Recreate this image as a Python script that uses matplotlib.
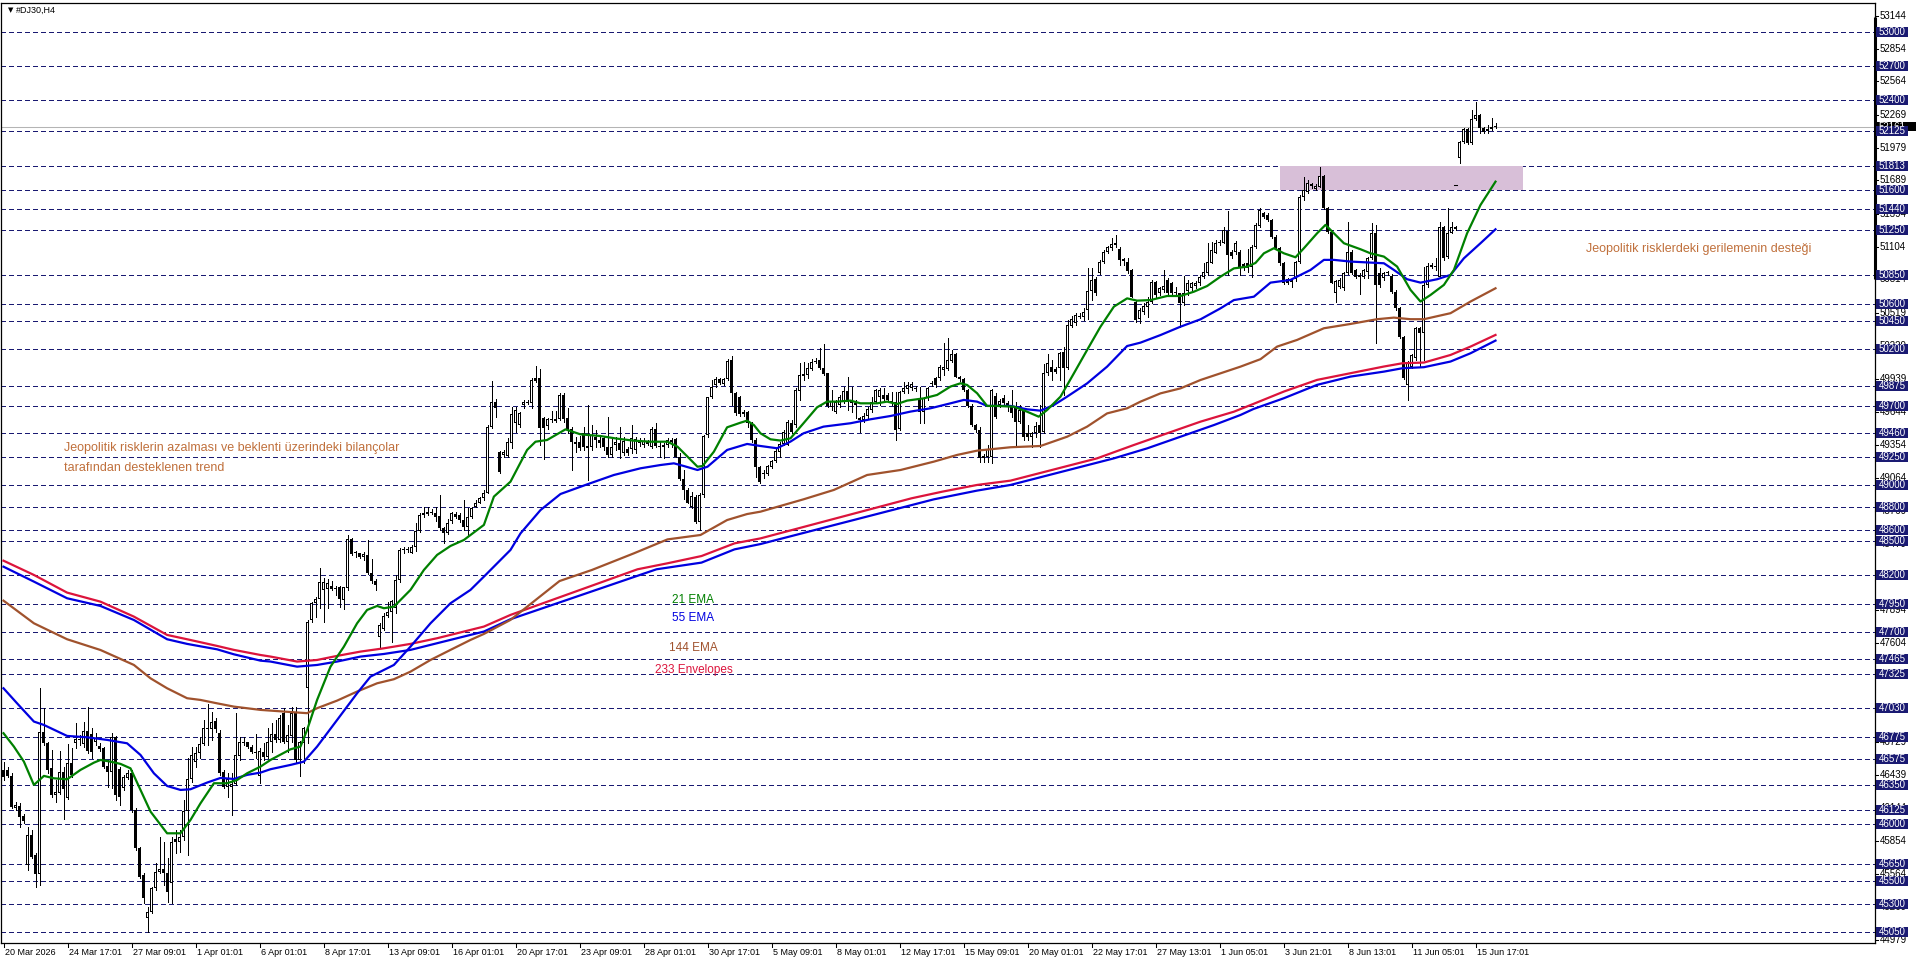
import numpy as np
import matplotlib.pyplot as plt
from matplotlib.patches import Rectangle
from matplotlib.transforms import blended_transform_factory

plt.rcParams['font.family'] = ['Liberation Sans', 'DejaVu Sans']
plt.rcParams['lines.scale_dashes'] = False

# ---------------------------------------------------------------------------
# #DJ30 H4 candles, 20 Mar 2026 -> 15 Jun 2026
# ---------------------------------------------------------------------------
opens = [
    46482, 46482, 46429, 46149, 46167, 46075, 45643, 45908, 45731, 45560,
    46814, 46717, 46496, 46261, 46276, 46461, 46231, 46541, 46717, 46747,
    46711, 46829, 46800, 46726, 46694, 46673, 46517, 46461, 46770, 46488,
    46320, 46411, 46452, 46128, 45790, 45554, 45177, 45230, 45437, 45578,
    45604, 45575, 45481, 45849, 45849, 45893, 46122, 46399, 46555, 46629,
    46711, 46841, 46844, 46914, 46811, 46461, 46334, 46329, 46355, 46605,
    46717, 46726, 46688, 46640, 46429, 46644, 46600, 46732, 46800, 46747,
    46982, 46732, 46782, 46997, 46570, 46717, 47203, 47807, 47954, 47989,
    48072, 48080, 48110, 48080, 48095, 47983, 48092, 48519, 48396, 48396,
    48360, 48381, 48219, 48154, 47659, 47730, 47842, 47880, 47910, 48160,
    48425, 48431, 48401, 48449, 48596, 48734, 48743, 48764, 48755, 48728,
    48616, 48572, 48684, 48743, 48734, 48690, 48625, 48719, 48808, 48843,
    48881, 48931, 49514, 49735, 49293, 49263, 49255, 49372, 49543, 49528,
    49705, 49731, 49725, 49920, 49940, 49587, 49519, 49572, 49584, 49578,
    49793, 49587, 49490, 49381, 49378, 49461, 49343, 49331, 49425, 49396,
    49416, 49337, 49263, 49352, 49366, 49278, 49313, 49313, 49308, 49396,
    49352, 49387, 49337, 49490, 49343, 49331, 49349, 49396, 49402, 49249,
    49048, 48954, 48807, 48895, 48675, 48910, 49440, 49773, 49882, 49932,
    49890, 49932, 50102, 49814, 49773, 49646, 49646, 49549, 49397, 49161,
    49108, 49096, 49161, 49211, 49293, 49361, 49352, 49550, 49529, 49832,
    49965, 49971, 50021, 50088, 50103, 50029, 49985, 49685, 49647, 49706,
    49744, 49829, 49750, 49720, 49588, 49573, 49608, 49661, 49735, 49779,
    49794, 49794, 49744, 49735, 49491, 49823, 49844, 49853, 49853, 49770,
    49647, 49765, 49888, 49941, 49941, 50015, 50021, 50097, 50156, 49956,
    49932, 49838, 49697, 49529, 49485, 49235, 49243, 49249, 49785, 49706,
    49770, 49720, 49690, 49676, 49552, 49661, 49461, 49425, 49455, 49528,
    49464, 49985, 50044, 50000, 50029, 50176, 50029, 50403, 50426, 50479,
    50485, 50544, 50715, 50815, 50874, 50971, 51053, 51089, 51118, 51083,
    50992, 50971, 50897, 50618, 50462, 50529, 50574, 50618, 50794, 50697,
    50721, 50809, 50780, 50691, 50691, 50603, 50715, 50735, 50756, 50780,
    50833, 50874, 50962, 51050, 51133, 51139, 51245, 51059, 51059, 51059,
    50950, 50956, 50928, 51104, 51287, 51399, 51384, 51340, 51193, 51090,
    50957, 50815, 50795, 50815, 50972, 51546, 51590, 51640, 51614, 51634,
    51728, 51443, 51237, 50698, 50745, 50736, 50869, 51060, 50898, 50854,
    50839, 50884, 51001, 51228, 50869, 50825, 50869, 50845, 50707, 50560,
    50309, 49883, 50045, 50118, 50383, 50339, 50766, 50928, 50934, 50839,
    51281, 51016, 51228, 51275, 51884, 52032, 52141, 52017, 52229, 52267,
    52149, 52141, 52141, 52164,
]
highs = [
    46555, 46511, 46452, 46202, 46187, 46093, 45981, 45952, 45746, 47203,
    47026, 46732, 46658, 46393, 46649, 46511, 46708, 46673, 46894, 46791,
    46909, 47035, 46850, 46811, 46717, 46688, 46570, 46805, 46782, 46511,
    46437, 46482, 46482, 46143, 45805, 45569, 45275, 45451, 45657, 45893,
    45849, 45701, 45893, 45952, 45952, 46217, 46585, 46688, 46688, 46776,
    46923, 47065, 46997, 46938, 46835, 46482, 46452, 46452, 46982, 46776,
    46776, 46732, 46702, 46800, 46673, 46717, 46850, 46894, 46923, 46968,
    47027, 46879, 47041, 47041, 46740, 46865, 47807, 47969, 48013, 48263,
    48175, 48166, 48154, 48107, 48107, 48101, 48557, 48528, 48419, 48402,
    48410, 48513, 48343, 48166, 47777, 47866, 47969, 47983, 48204, 48440,
    48454, 48450, 48469, 48660, 48749, 48808, 48808, 48790, 48802, 48911,
    48631, 48696, 48763, 48763, 48749, 48867, 48793, 48808, 48867, 48896,
    48955, 49529, 49920, 49756, 49300, 49308, 49411, 49690, 49690, 49646,
    49749, 49745, 49946, 50049, 50020, 49602, 49587, 49655, 49655, 49808,
    49808, 49675, 49508, 49425, 49431, 49514, 49705, 49528, 49484, 49440,
    49434, 49596, 49425, 49425, 49514, 49425, 49337, 49528, 49425, 49410,
    49411, 49400, 49508, 49549, 49381, 49366, 49411, 49411, 49411, 49278,
    49131, 48969, 48939, 48910, 48925, 49440, 49779, 49926, 49949, 49945,
    49945, 50108, 50138, 49823, 49784, 49661, 49650, 49558, 49411, 49167,
    49131, 49176, 49220, 49323, 49382, 49485, 49573, 49573, 49853, 50074,
    50088, 50080, 50109, 50118, 50206, 50244, 49991, 49838, 49750, 49794,
    49868, 49956, 49868, 49750, 49603, 49632, 49691, 49779, 49844, 49853,
    49853, 49809, 49823, 49823, 49832, 49912, 49912, 49912, 49870, 49868,
    49779, 49868, 49920, 49956, 50059, 50256, 50294, 50191, 50168, 49960,
    49940, 49850, 49710, 49540, 49514, 49270, 49352, 49844, 49809, 49760,
    49790, 49740, 49838, 49735, 49705, 49676, 49528, 49470, 49558, 49705,
    50067, 50156, 50103, 50044, 50176, 50220, 50456, 50491, 50515, 50515,
    50559, 50912, 50912, 50833, 50986, 51074, 51109, 51177, 51207, 51098,
    51000, 51000, 50903, 50632, 50559, 50603, 50662, 50809, 50803, 50750,
    50897, 50824, 50794, 50750, 50697, 50844, 50809, 50794, 50803, 50853,
    50962, 51139, 51148, 51162, 51162, 51280, 51420, 51070, 51150, 51074,
    50960, 51080, 51120, 51310, 51443, 51413, 51400, 51350, 51205, 51100,
    50970, 50830, 50830, 50980, 51560, 51723, 51693, 51670, 51660, 51811,
    51740, 51455, 51251, 50810, 50825, 50880, 51325, 51070, 50910, 50869,
    50910, 51016, 51310, 51296, 50913, 50880, 50890, 50860, 50722, 50575,
    50315, 50097, 50160, 50398, 50398, 50928, 50957, 50957, 51001, 51325,
    51287, 51443, 51325, 51290, 52041, 52149, 52150, 52311, 52385, 52276,
    52160, 52179, 52238, 52200,
]
lows = [
    46393, 46417, 46143, 46128, 45981, 46011, 45598, 45701, 45451, 45466,
    46702, 46452, 46246, 46202, 46270, 46046, 46223, 46423, 46673, 46702,
    46688, 46629, 46585, 46702, 46652, 46496, 46334, 46320, 46217, 46172,
    46305, 46399, 46114, 45775, 45525, 45304, 45054, 45216, 45422, 45569,
    45466, 45319, 45304, 45746, 45760, 45863, 45731, 46379, 46511, 46585,
    46702, 46702, 46747, 46820, 46437, 46320, 46246, 46084, 46349, 46570,
    46702, 46673, 46629, 46585, 46364, 46570, 46585, 46644, 46732, 46732,
    46717, 46644, 46732, 46555, 46429, 46541, 46717, 47792, 47836, 47910,
    47792, 47910, 48072, 48027, 47924, 47901, 48072, 48381, 48360, 48351,
    48337, 48210, 48136, 48072, 47556, 47718, 47836, 47615, 47866, 48145,
    48395, 48405, 48395, 48419, 48587, 48719, 48734, 48740, 48684, 48602,
    48490, 48566, 48660, 48705, 48675, 48602, 48549, 48705, 48802, 48837,
    48867, 48925, 49499, 49603, 49108, 49249, 49249, 49322, 49469, 49514,
    49675, 49710, 49675, 49911, 49352, 49228, 49490, 49558, 49558, 49572,
    49558, 49455, 49131, 49293, 49308, 49308, 49043, 49308, 49337, 49337,
    49308, 49249, 49249, 49308, 49234, 49263, 49263, 49284, 49278, 49340,
    49337, 49350, 49322, 49331, 49249, 49234, 49337, 49337, 49243, 49043,
    48872, 48837, 48792, 48666, 48601, 48895, 49425, 49764, 49867, 49890,
    49885, 49926, 49705, 49617, 49608, 49608, 49514, 49381, 49073, 49020,
    49058, 49087, 49146, 49205, 49249, 49352, 49350, 49461, 49514, 49750,
    49926, 49941, 50015, 50074, 50021, 49971, 49685, 49661, 49632, 49685,
    49726, 49661, 49647, 49588, 49470, 49558, 49588, 49647, 49726, 49706,
    49735, 49735, 49706, 49396, 49485, 49809, 49809, 49838, 49830, 49544,
    49544, 49750, 49870, 49868, 49926, 49971, 50015, 50088, 49950, 49920,
    49830, 49685, 49520, 49470, 49205, 49205, 49205, 49190, 49588, 49690,
    49700, 49650, 49602, 49337, 49543, 49396, 49396, 49337, 49420, 49337,
    49455, 49970, 49926, 49985, 49926, 49793, 50020, 50391, 50412, 50470,
    50456, 50462, 50632, 50677, 50862, 50956, 51045, 51074, 51103, 50942,
    50942, 50868, 50656, 50441, 50426, 50509, 50485, 50603, 50656, 50680,
    50706, 50677, 50677, 50677, 50397, 50588, 50677, 50721, 50735, 50765,
    50824, 50853, 50956, 51045, 51118, 51133, 50853, 51000, 51040, 50853,
    50900, 50883, 50839, 51090, 51281, 51355, 51330, 51180, 51080, 50945,
    50775, 50770, 50751, 50804, 50960, 51517, 51575, 51620, 51600, 51628,
    51434, 51225, 50780, 50619, 50735, 50725, 50863, 50865, 50830, 50686,
    50830, 50825, 50992, 50256, 50751, 50810, 50855, 50695, 50545, 50295,
    49933, 49750, 50030, 50103, 50044, 50103, 50751, 50913, 50898, 50825,
    50987, 51001, 51222, 51250, 51846, 52017, 52010, 52011, 52223, 52105,
    52110, 52111, 52135, 52150,
]
closes = [
    46417, 46429, 46158, 46172, 46069, 46031, 45908, 45716, 45560, 46820,
    46717, 46482, 46261, 46284, 46461, 46311, 46541, 46437, 46752, 46755,
    46829, 46652, 46644, 46761, 46667, 46511, 46461, 46770, 46261, 46246,
    46417, 46452, 46128, 45790, 45540, 45348, 45230, 45437, 45578, 45604,
    45569, 45407, 45849, 45869, 45893, 46122, 46399, 46614, 46635, 46711,
    46850, 46850, 46909, 46841, 46452, 46329, 46399, 46355, 46614, 46732,
    46726, 46688, 46644, 46635, 46653, 46600, 46732, 46800, 46747, 46938,
    46732, 46791, 46982, 46570, 46732, 46850, 47792, 47960, 47989, 48145,
    48145, 48131, 48080, 48089, 47989, 48095, 48519, 48390, 48399, 48360,
    48390, 48219, 48154, 48116, 47763, 47842, 47880, 47975, 48160, 48425,
    48431, 48425, 48449, 48596, 48734, 48755, 48764, 48749, 48713, 48616,
    48572, 48660, 48749, 48719, 48690, 48625, 48719, 48793, 48843, 48881,
    48931, 49514, 49735, 49676, 49117, 49293, 49381, 49625, 49661, 49637,
    49731, 49720, 49926, 49940, 49499, 49499, 49578, 49584, 49566, 49793,
    49578, 49490, 49378, 49361, 49322, 49331, 49328, 49440, 49396, 49366,
    49331, 49263, 49337, 49381, 49308, 49390, 49278, 49411, 49408, 49366,
    49387, 49361, 49490, 49343, 49331, 49349, 49396, 49381, 49249, 49048,
    48954, 48842, 48901, 48675, 48910, 49434, 49773, 49867, 49932, 49900,
    49932, 50096, 49808, 49631, 49625, 49625, 49549, 49396, 49161, 49028,
    49096, 49167, 49211, 49302, 49361, 49470, 49558, 49470, 49838, 49971,
    49979, 50029, 50088, 50082, 50029, 49979, 49697, 49744, 49735, 49779,
    49829, 49735, 49720, 49706, 49573, 49611, 49667, 49735, 49838, 49838,
    49756, 49750, 49720, 49485, 49823, 49853, 49882, 49891, 49844, 49647,
    49765, 49853, 49903, 49882, 50038, 50044, 50103, 50156, 49956, 49932,
    49838, 49697, 49529, 49485, 49235, 49255, 49314, 49838, 49597, 49744,
    49720, 49690, 49631, 49552, 49661, 49420, 49420, 49455, 49520, 49461,
    49991, 50073, 50000, 50021, 50167, 50029, 50412, 50462, 50500, 50491,
    50529, 50715, 50809, 50691, 50971, 51059, 51098, 51127, 51139, 50986,
    50980, 50892, 50662, 50456, 50544, 50579, 50618, 50794, 50677, 50735,
    50756, 50691, 50691, 50706, 50603, 50691, 50786, 50780, 50786, 50839,
    50883, 50971, 51074, 51133, 51148, 51251, 51030, 51021, 51139, 50927,
    50921, 50912, 51104, 51296, 51428, 51369, 51340, 51193, 51090, 50957,
    50786, 50786, 50815, 50972, 51546, 51605, 51670, 51655, 51643, 51728,
    51443, 51237, 50786, 50804, 50810, 50869, 51060, 50875, 50839, 50833,
    50898, 51001, 51222, 50766, 50766, 50869, 50875, 50707, 50560, 50309,
    49941, 50089, 50148, 50383, 50339, 50766, 50934, 50943, 50922, 51275,
    51001, 51228, 51275, 51260, 52032, 52141, 52017, 52229, 52267, 52149,
    52120, 52126, 52161, 52161,
]

# indicator lines, sampled along the chart: (bar, price)
ema21_bar = [0, 2.6, 5.1, 7.6, 10.1, 12.6, 15.9, 19.25, 22.6, 24.25, 26.75, 29.25, 31.75,
             34.25, 36.75, 40.9, 44.25, 46.75, 49.25, 52.6, 55.9, 58.4, 60.9, 64.25, 66.75,
             71.75, 74.25, 75.9, 78.4, 81.75, 85.1, 88.4, 90.9, 93.4, 95.1, 97.6, 101.75,
             105.1, 108.4, 111.75, 115.1, 120.1, 122.6, 126.75, 130.9, 133, 135.9, 140.5,
             144.25, 149.25, 153.4, 157.6, 161.75, 166, 168.5, 171, 173.5, 174.75, 177.6,
             180.9, 184.25, 185.9, 187.6, 189.25, 191.75, 194.25, 196.75, 200, 203.4, 205.9,
             208.4, 211.75, 214.25, 218.4, 220.9, 223.4, 225.9, 230.1, 233.4, 236.75, 239.25,
             240.9, 243.4, 245.9, 248.4, 252.6, 255.9, 258.8, 260.9, 264.25, 267.6, 270.9,
             274.25, 277.6, 280.9, 283.4, 286.75, 290.9, 294.25, 297.6, 300.9, 304.25, 307.6,
             310.9, 313, 315.1, 317.6, 320.1, 323, 325.1, 328.4, 330.5, 331.75, 335.1, 339.25,
             341.75, 345.1, 348.4, 351.75, 354.25, 356.75, 360.1, 362.6, 365.9, 369.25, 373]
ema21_val = [46806, 46688, 46555, 46349, 46429, 46408, 46399, 46482, 46546, 46570, 46555, 46535,
             46496, 46305, 46114, 45922, 45922, 46040, 46187, 46364, 46364, 46393, 46452, 46511,
             46570, 46664, 46688, 46835, 47100, 47394, 47571, 47777, 47895, 47930, 47910, 47924,
             48072, 48248, 48381, 48460, 48513, 48646, 48896, 49028, 49308, 49381, 49396, 49490,
             49446, 49431, 49408, 49390, 49381, 49381, 49337, 49249, 49160, 49166, 49293, 49508,
             49549, 49567, 49528, 49455, 49402, 49391, 49411, 49544, 49685, 49735, 49735, 49744,
             49720, 49720, 49735, 49714, 49744, 49764, 49794, 49868, 49897, 49882, 49809, 49697,
             49697, 49690, 49646, 49602, 49661, 49779, 49985, 50191, 50397, 50574, 50647, 50627,
             50632, 50668, 50668, 50706, 50756, 50839, 50912, 50927, 50960, 51045, 51090, 51045,
             51010, 51090, 51222, 51296, 51252, 51134, 51081, 51045, 51016, 50928, 50722, 50619,
             50677, 50766, 50898, 51222, 51472, 51678]

ema55_bar = [0, 3.4, 7.6, 10.1, 15.9, 20.9, 25.9, 30.9, 34.25, 37.6, 40.9, 44.25, 46.75, 50.9,
             54.25, 57.6, 60.9, 64.25, 66.75, 71.75, 75.1, 78.4, 83.4, 88.4, 91.75, 95.1, 97.6,
             101.75, 106.75, 111.75, 116.75, 120.1, 126.75, 129.25, 134.25, 139.25, 145.9, 152.6,
             159.25, 164.25, 167.6, 170.1, 173.5, 176, 180.9, 185.9, 189.25, 193.4, 196.75, 200,
             205, 211.75, 216.75, 221.75, 226.75, 231.75, 236.75, 240.1, 243.4, 245.9, 251.75,
             255.9, 259.25, 262.6, 265.9, 270.9, 275.9, 280.9, 284.25, 289.25, 294.25, 299.25,
             304.25, 307.6, 312.6, 316.75, 321.75, 326.75, 330.1, 332.6, 336.75, 345.1, 347.6,
             350.9, 354.25, 358.4, 361.75, 365.1, 369.25, 373]
ema55_val = [47203, 47070, 46909, 46879, 46782, 46770, 46747, 46717, 46614, 46452, 46340, 46305,
             46311, 46370, 46411, 46402, 46438, 46458, 46488, 46526, 46555, 46688, 46923, 47159,
             47306, 47365, 47409, 47571, 47777, 47954, 48072, 48189, 48425, 48571, 48777, 48919,
             49004, 49087, 49146, 49175, 49190, 49166, 49131, 49160, 49308, 49361, 49343, 49323,
             49382, 49455, 49514, 49544, 49579, 49608, 49647, 49676, 49720, 49750, 49735, 49697,
             49697, 49667, 49655, 49705, 49779, 49896, 50044, 50226, 50256, 50323, 50397, 50462,
             50559, 50632, 50662, 50786, 50810, 50898, 50987, 50987, 50972, 50957, 50898, 50816,
             50786, 50816, 50854, 51001, 51134, 51257]

ema144_bar = [0, 7.6, 15.9, 24.25, 32.6, 36.75, 40.9, 45.9, 49.25, 53.4, 57.6, 64.25, 73.4, 75.9,
              78.4, 83.4, 88.4, 93.4, 97.6, 101.75, 106.75, 111.75, 116.75, 120.1, 126.75, 139,
              147.1, 157.6, 166, 174.25, 180.9, 185.9, 189.25, 200, 207.6, 215.9, 224.25, 232.6,
              238.4, 243.4, 251.75, 259.25, 265.9, 270.9, 275.9, 280.9, 284.25, 289.25, 294.25,
              299.25, 304.25, 309.25, 314.25, 318.4, 323.4, 330.1, 336.75, 343.4, 347.6, 351.75,
              355.1, 361.75, 366.75, 373]
ema144_val = [47977, 47777, 47636, 47541, 47409, 47291, 47203, 47115, 47100, 47070, 47041, 47012,
              46989, 46983, 47027, 47094, 47174, 47247, 47283, 47350, 47453, 47542, 47630, 47683,
              47807, 48150, 48248, 48395, 48518, 48557, 48689, 48742, 48763, 48872, 48955, 49087,
              49131, 49205, 49264, 49302, 49332, 49343, 49425, 49514, 49631, 49676, 49735, 49808,
              49852, 49926, 49985, 50044, 50110, 50221, 50280, 50383, 50421, 50463, 50477, 50463,
              50463, 50516, 50619, 50736]

env_up_bar = [0, 7.6, 15.9, 24.25, 32.6, 40.9, 45.9, 53.4, 57.6, 64.25, 66.75, 73.4, 78.4, 83.4,
              89.25, 95.1, 101.75, 108.4, 115.1, 120.1, 126.75, 158.5, 166, 174.5, 182.75, 189.25,
              227, 234.75, 243.4, 251.75, 273.4, 282.6, 290.9, 299.25, 307.6, 312.5, 320.1, 328.4,
              336.75, 345.1, 349.75, 355.1, 361.75, 366.75, 373]
env_up_val = [48330, 48204, 48048, 47968, 47836, 47674, 47636, 47577, 47542, 47497, 47483, 47439,
              47453, 47489, 47527, 47556, 47595, 47645, 47704, 47748, 47851, 48254, 48307, 48371,
              48483, 48527, 48881, 48940, 48999, 49037, 49234, 49352, 49455, 49558, 49646, 49715,
              49824, 49927, 49986, 50045, 50074, 50080, 50147, 50221, 50324]

env_dn_bar = [0, 7.6, 15.9, 24.25, 32.6, 40.9, 45.9, 53.4, 57.6, 64.25, 66.75, 73.4, 78.4, 83.4,
              89.25, 95.1, 101.75, 108.4, 115.1, 120.1, 126.75, 163.25, 174.5, 182.75, 189.25,
              232.6, 243.4, 251.75, 277.6, 285.9, 294.25, 302.6, 309.25, 312.5, 320.1, 328.4,
              336.75, 345.1, 349.75, 355.1, 361.75, 366.75, 373]
env_dn_val = [48277, 48145, 47998, 47930, 47806, 47636, 47595, 47547, 47503, 47447, 47439, 47394,
              47409, 47439, 47483, 47506, 47542, 47601, 47660, 47704, 47813, 48254, 48313, 48430,
              48477, 48872, 48949, 48999, 49234, 49322, 49425, 49528, 49617, 49670, 49765, 49883,
              49956, 50000, 50030, 50039, 50089, 50162, 50274]

# horizontal levels drawn on the chart
levels = [53000, 52700, 52400, 52125, 51813, 51600, 51440, 51250, 50850, 50600, 50450, 50200,
          49875, 49700, 49460, 49250, 49000, 48800, 48600, 48500, 48200, 47950, 47700, 47465,
          47325, 47030, 46775, 46575, 46350, 46125, 46000, 45650, 45500, 45300, 45050]
# price scale grid values
scale_ticks = [53144, 52854, 52564, 52269, 51979, 51689, 51394, 51104, 50814, 50519, 50229,
               49939, 49644, 49354, 49064, 48769, 48479, 48189, 47894, 47604, 47314, 47019,
               46729, 46439, 46144, 45854, 45564, 45269, 44979]
bid = 52161

date_labels = ['20 Mar 2026', '24 Mar 17:01', '27 Mar 09:01', '1 Apr 01:01', '6 Apr 01:01',
               '8 Apr 17:01', '13 Apr 09:01', '16 Apr 01:01', '20 Apr 17:01', '23 Apr 09:01',
               '28 Apr 01:01', '30 Apr 17:01', '5 May 09:01', '8 May 01:01', '12 May 17:01',
               '15 May 09:01', '20 May 01:01', '22 May 17:01', '27 May 13:01', '1 Jun 05:01',
               '3 Jun 21:01', '8 Jun 13:01', '11 Jun 05:01', '15 Jun 17:01']
bars_per_label = 16

zone = (319, 379.75, 51600, 51813)   # bar from, bar to, price low, price high

note_left = ['Jeopolitik risklerin azalması ve beklenti üzerindeki bilançolar',
             'tarafından desteklenen trend']
note_right = 'Jeopolitik risklerdeki gerilemenin desteği'
legend_items = [('21 EMA', '#008000'), ('55 EMA', '#0000E0'),
                ('144 EMA', '#A0522D'), ('233 Envelopes', '#DC143C')]
legend_y = [47983, 47824, 47559, 47365]

# ---------------------------------------------------------------------------
# figure
# ---------------------------------------------------------------------------
W, H = 1916, 963
fig = plt.figure(figsize=(W / 100, H / 100), dpi=100)
ax = fig.add_axes([1 / W, 20 / H, 1874 / W, 940 / H])
ax.set_xlim(-0.625, -0.625 + 1874 / 4)
ax.set_ylim(44953, 53256)
px = 8.833   # price per pixel
bw = 0.25    # one pixel in bar units

NAVY = '#1a1a72'
for lv in levels:
    ax.axhline(lv, color=NAVY, lw=0.75, linestyle=(0, (3, 2.2)), zorder=1, antialiased=False)
ax.axhline(bid, color='#b4b4b4', lw=0.75, zorder=1.5)

z0, z1, zlo, zhi = zone
ax.add_patch(Rectangle((z0, zlo), z1 - z0, zhi - zlo, facecolor='#d8bfd8',
                       edgecolor='none', zorder=2))
ax.plot([362.7, 363.3], [51649, 51649], color='black', lw=0.75, zorder=2.5)

# candles: 1px wick, 3px body, white bodies get a 1px black outline
o = np.array(opens, float)
h = np.array(highs, float)
l = np.array(lows, float)
c = np.array(closes, float)
x = np.arange(len(o))
ax.vlines(x, l, h, color='black', lw=0.72, zorder=3, antialiased=False)
up = c >= o
body_lo = np.minimum(o, c)
body_h = np.maximum(np.abs(c - o), px)
ax.bar(x, body_h, bottom=body_lo, width=3 * bw, color='black', linewidth=0,
       zorder=4, antialiased=False)
inner = up & (body_h > 2.5 * px)
ax.bar(x[inner], body_h[inner] - 2 * px, bottom=body_lo[inner] + px, width=bw,
       color='white', linewidth=0, zorder=4.5, antialiased=False)

# indicators
ax.plot(env_up_bar, env_up_val, color='#DC143C', lw=1.6, zorder=5)
ax.plot(env_dn_bar, env_dn_val, color='#0000E0', lw=1.6, zorder=5)
ax.plot(ema144_bar, ema144_val, color='#A0522D', lw=1.6, zorder=5)
ax.plot(ema55_bar, ema55_val, color='#0000E0', lw=1.6, zorder=5)
ax.plot(ema21_bar, ema21_val, color='#008000', lw=1.6, zorder=5)

# text on chart
NOTE = '#C0703C'
ax.text(15.25, 49325, note_left[0], color=NOTE, fontsize=9, va='center', zorder=6)
ax.text(15.25, 49149, note_left[1], color=NOTE, fontsize=9, va='center', zorder=6)
ax.text(395.75, 51083, note_right, color=NOTE, fontsize=9, va='center', zorder=6)
for (txt, col), yy in zip(legend_items, legend_y):
    ax.text(172.5, yy, txt, color=col, fontsize=8.5, ha='center', va='center', zorder=6)
ax.text(1.0, 53194, '\u25bc', fontsize=5, va='center', ha='left', family=['DejaVu Sans'])
ax.text(3.0, 53194, '#DJ30,H4', fontsize=6.5, va='center', ha='left')

# frame
for s in ['top', 'bottom', 'left', 'right']:
    ax.spines[s].set_color('black')
    ax.spines[s].set_linewidth(0.9)
ax.set_xticks([])
ax.set_yticks([])

# price scale on the right
tr = blended_transform_factory(ax.transAxes, ax.transData)
xa = 1.0
for t in scale_ticks:
    ax.plot([xa, xa + 2.5 / 1874], [t, t], color='black', lw=0.75, transform=tr, clip_on=False)
    ax.text(xa + 5 / 1874, t, f'{t}', fontsize=7, va='center', ha='left',
            transform=tr, clip_on=False)
ax.plot([xa, xa], [50814, 53130], color='black', lw=2.2, transform=tr, clip_on=False,
        solid_capstyle='butt')
ax.add_patch(Rectangle((xa + 1 / 1874, bid - 4.5 * px), 40 / 1874, 9.5 * px, facecolor='black',
                       edgecolor='none', transform=tr, clip_on=False, zorder=7))
ax.text(xa + 4 / 1874, bid, f'{bid}', fontsize=7, color='white', va='center',
        ha='left', transform=tr, clip_on=False, zorder=7.5)
for lv in levels:
    ax.add_patch(Rectangle((xa + 1 / 1874, lv - 5 * px), 32 / 1874, 10 * px,
                           facecolor=NAVY, edgecolor='none', transform=tr,
                           clip_on=False, zorder=8))
    ax.text(xa + 3.5 / 1874, lv, f'{lv}', fontsize=7, color='white', va='center',
            ha='left', transform=tr, clip_on=False, zorder=9)

# time scale
trx = blended_transform_factory(ax.transData, ax.transAxes)
for k, lab in enumerate(date_labels):
    b = k * bars_per_label
    ax.plot([b, b], [0, -4 / 940], color='black', lw=0.75, transform=trx, clip_on=False)
    ax.text(b + 0.3, -9 / 940, lab, fontsize=6.5, va='center', ha='left',
            transform=trx, clip_on=False)

fig.savefig('out.png', dpi=100, facecolor='white')
